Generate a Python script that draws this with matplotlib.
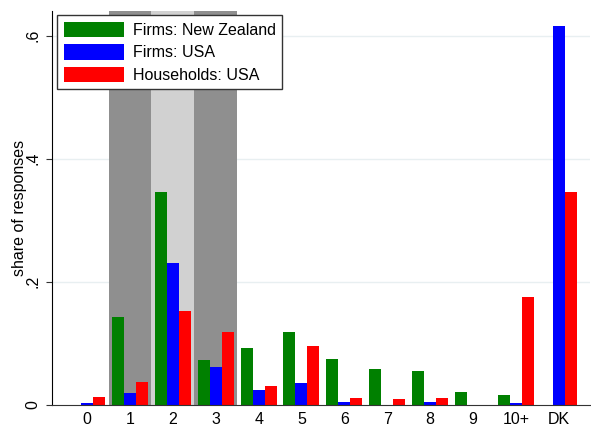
import numpy as np
import matplotlib
matplotlib.use("Agg")
from matplotlib import pyplot as plt

plt.rcParams['font.family'] = ['Liberation Sans', 'DejaVu Sans']

categories = ["0", "1", "2", "3", "4", "5", "6", "7", "8", "9", "10+", "DK"]
firms_nz = [0.0, 0.143, 0.346, 0.073, 0.093, 0.118, 0.074, 0.058, 0.055, 0.021, 0.017, 0.0]
firms_usa = [0.003, 0.019, 0.231, 0.062, 0.025, 0.035, 0.005, 0.0, 0.005, 0.0, 0.003, 0.616]
households_usa = [0.013, 0.037, 0.152, 0.119, 0.031, 0.096, 0.011, 0.009, 0.011, 0.0, 0.176, 0.346]
series_names = ["Firms: New Zealand", "Firms: USA", "Households: USA"]
series_colors = ["#008000", "#0000ff", "#ff0000"]

fig = plt.figure(figsize=(5.91, 4.26), dpi=100)
ax = fig.add_axes([52 / 591, 21 / 426, 538 / 591, 394 / 426])

x = np.arange(len(categories))
width = 0.28  # the width of the bars

# gridlines sit behind the shaded bands
for yv in [0.2, 0.4, 0.6]:
    ax.axhline(yv, color="#e8eff1", lw=1, zorder=0.2)

# shaded bands behind 1, 2, 3
ax.axvspan(0.5, 1.5, color="#8f8f8f", zorder=0.5, lw=0)
ax.axvspan(1.5, 2.5, color="#d1d1d1", zorder=0.5, lw=0)
ax.axvspan(2.5, 3.5, color="#8f8f8f", zorder=0.5, lw=0)

all_series = [firms_nz, firms_usa, households_usa]
for i, (vals, name, col) in enumerate(zip(all_series, series_names, series_colors)):
    ax.bar(x + (i - 1) * width, vals, width, color=col, label=name, zorder=2, lw=0)

ax.set_xlim(-0.82, 11.73)
ax.set_ylim(0, 0.64)
ax.set_xticks(x)
ax.set_xticklabels(categories, fontsize=11.5)
ax.tick_params(axis="x", length=0, pad=5)
ax.set_yticks([0, 0.2, 0.4, 0.6])
ax.set_yticklabels(["0", ".2", ".4", ".6"], fontsize=11.5, rotation=90, va="center")
ax.tick_params(axis="y", length=4.5, color="#333333", pad=4)
ax.set_ylabel("share of responses", fontsize=11.5, labelpad=-1)

for side in ["top", "right"]:
    ax.spines[side].set_visible(False)
ax.spines["left"].set_color("#000000")
ax.spines["bottom"].set_color("#333333")

leg = ax.legend(loc="upper left", bbox_to_anchor=(5 / 538, 1 - 4 / 394), borderaxespad=0,
                fontsize=11.5, frameon=True, fancybox=False, edgecolor="#333333",
                framealpha=1, handlelength=3.76, handleheight=1.1, labelspacing=0.4,
                borderpad=0.42, handletextpad=0.56)
leg.get_frame().set_linewidth(1)

plt.savefig("out.png", dpi=100)
plt.close()
